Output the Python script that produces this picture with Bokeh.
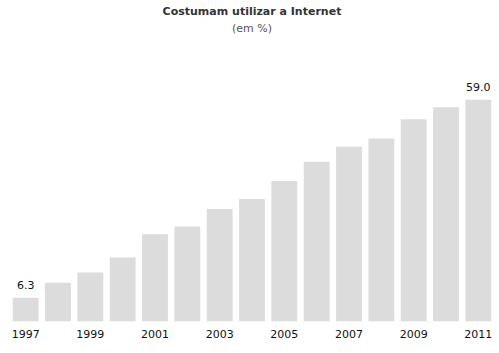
from bokeh.plotting import figure
from bokeh.models import ColumnDataSource, FixedTicker, Title, Range1d
from bokeh.core.properties import value
from bokeh.embed import file_html
from bokeh.resources import INLINE

years = [1997, 1998, 1999, 2000, 2001, 2002, 2003, 2004, 2005, 2006, 2007, 2008, 2009, 2010, 2011]
values = [6.3, 10.3, 13.0, 17.0, 23.2, 25.3, 29.9, 32.6, 37.4, 42.5, 46.5, 48.7, 53.8, 57.0, 59.0]
tick_years = [1997, 1999, 2001, 2003, 2005, 2007, 2009, 2011]
label_years = [1997, 2011]
label_values = [6.3, 59.0]
label_texts = ["6.3", "59.0"]

FONT = "DejaVu Sans"

p = figure(width=499, height=353, output_backend="svg", toolbar_location=None,
           x_range=Range1d(1996.5, 2011.5), y_range=Range1d(0, 64.9),
           min_border_left=9, min_border_right=5, min_border_top=0, min_border_bottom=32)

# spacer between subtitle and plot area
p.add_layout(Title(text=" ", align="center", text_font=FONT, text_font_size="11px",
                   standoff=28), "above")
p.add_layout(Title(text="(em %)", align="center", text_font=FONT, text_font_size="11px",
                   text_font_style="normal", text_color="#555555", standoff=0), "above")
p.add_layout(Title(text="Costumam utilizar a Internet", align="center", text_font=FONT,
                   text_font_size="11px", text_font_style="bold", text_color="#333333", standoff=4), "above")

src = ColumnDataSource(dict(x=years, top=values))
p.vbar(x="x", top="top", width=0.8, bottom=0, source=src, fill_color="#dcdcdc", line_color=None)

lab = ColumnDataSource(dict(x=label_years, y=label_values, t=label_texts))
p.text(x="x", y="y", text="t", source=lab, text_font=value(FONT), text_font_size="11px",
       text_color="#111111", text_align="center", text_baseline="bottom", y_offset=-9)

p.xaxis.ticker = FixedTicker(ticks=tick_years)
p.xaxis.axis_line_color = None
p.xaxis.major_tick_line_color = None
p.xaxis.minor_tick_line_color = None
p.xaxis.major_tick_out = 0
p.xaxis.major_label_standoff = 8
p.xaxis.major_label_text_font = FONT
p.xaxis.major_label_text_font_size = "11px"
p.xaxis.major_label_text_color = "#111111"
p.yaxis.visible = False
p.xgrid.visible = False
p.ygrid.visible = False
p.outline_line_color = None

open("out.html", "w").write(file_html(p, INLINE))
